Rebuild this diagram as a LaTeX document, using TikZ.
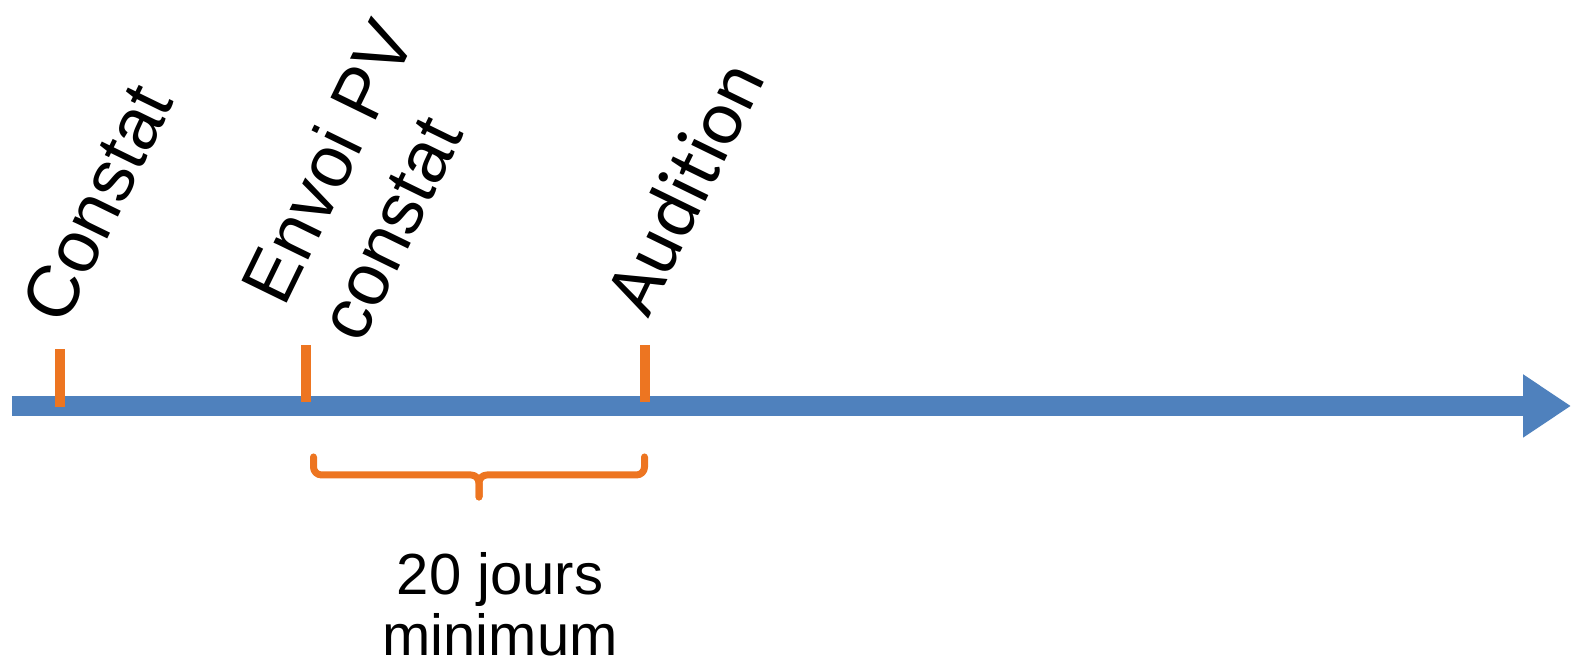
\documentclass[tikz,border=0pt]{standalone}
\usepackage{fontspec}
\setmainfont{Liberation Sans}
\newfontfamily\carlito[Ligatures=NoCommon]{Carlito}
\usetikzlibrary{arrows.meta, positioning}

\definecolor{axisblue}{RGB}{79,129,189}
\definecolor{markorange}{RGB}{237,117,33}

\begin{document}
\begin{tikzpicture}[
  timeline/.style={draw=axisblue, line width=0.2cm,
    -{Triangle[length=0.48cm, width=0.6cm]}},
  tickmark/.style={draw=markorange, line width=0.1cm},
  etape/.style={rotate=64, anchor=base west, inner sep=0pt,
    align=left, font=\fontsize{20.8}{24.2}\selectfont},
  accolade/.style={draw=markorange, line width=0.07cm, line cap=round,
    line join=round, rounded corners=0.08cm}
]
\useasboundingbox (0,0) rectangle (15.72,6.71);

% axe du temps
\coordinate (debut) at (0.12,2.65);
\coordinate (fin)   at (15.71,2.65);
\draw[timeline] (debut) -- (fin);

% jalons
\coordinate (t1) at (0.60,2.64);
\coordinate (t2) at (3.06,2.69);
\coordinate (t3) at (6.445,2.69);
\draw[tickmark] (t1) -- ++(0,0.58);
\draw[tickmark] (t2) -- ++(0,0.57);
\draw[tickmark] (t3) -- ++(0,0.57);

\node[etape] (constat)  at (0.64,3.43) {Constat};
\node[etape] (envoi)    at (3.61,3.25) {Envoi PV\\constat};
\node[etape, font=\carlito\fontsize{22}{24}\selectfont]
  (audition) at (6.48,3.51) {Audition};

% accolade sous l'intervalle envoi -> audition
\coordinate (b1) at (3.135,2.14);
\coordinate (b2) at (6.445,2.14);
\draw[accolade] (b1) -- ++(0,-0.18) -- ++(1.655,0) -- ++(0,-0.22);
\draw[accolade] (b2) -- ++(0,-0.18) -- ++(-1.655,0) -- ++(0,-0.22);

\node[align=center, anchor=base, inner sep=0pt,
  font=\fontsize{16.5}{17.6}\selectfont] (delai) at (5.00,0.15)
  {20 jours\\minimum};

\end{tikzpicture}
\end{document}
